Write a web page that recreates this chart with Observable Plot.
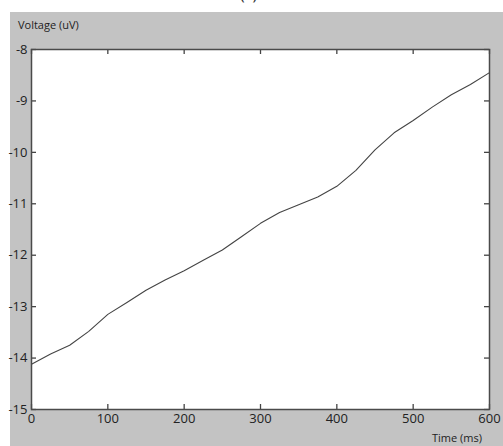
<!DOCTYPE html>
<html>
<head>
<meta charset="utf-8">
<script src="https://cdn.jsdelivr.net/npm/d3@7"></script>
<script src="https://cdn.jsdelivr.net/npm/@observablehq/plot@0.6"></script>
<style>
  html, body { margin: 0; padding: 0; background: #fff; }
  body { width: 503px; height: 446px; overflow: hidden; position: relative; font-family: "Open Sans", "DejaVu Sans", sans-serif; }
  #cap { position: absolute; left: 0; top: 0; width: 503px; height: 12px; overflow: hidden; }
  #cap span { position: absolute; left: 240px; top: -14px; font-size: 16px; line-height: 16px; color: #333; }
  #panel { position: absolute; left: 10px; top: 12px; width: 493px; height: 434px; background: #c3c3c3; }
  #chart { position: absolute; left: 0; top: 12px; }
  #ylab { position: absolute; left: 18px; top: 17px; font-size: 11px; color: #222; }
  #xlab { position: absolute; right: 21px; top: 430px; font-size: 11px; color: #222; }
</style>
</head>
<body>
<div id="cap"><span>(c)</span></div>
<div id="panel"></div>
<div id="chart"></div>
<div id="ylab">Voltage (uV)</div>
<div id="xlab">Time (ms)</div>
<script>
const timeMs = [0, 25, 50, 75, 100, 125, 150, 175, 200, 225, 250, 275, 300, 325, 350, 375, 400, 425, 450, 475, 500, 525, 550, 575, 600];
const voltage = [-14.12, -13.92, -13.75, -13.48, -13.15, -12.92, -12.68, -12.48, -12.30, -12.10, -11.90, -11.64, -11.38, -11.17, -11.02, -10.87, -10.66, -10.35, -9.95, -9.62, -9.38, -9.12, -8.88, -8.68, -8.45];
const xTicks = [0, 100, 200, 300, 400, 500, 600];
const yTicks = [-15, -14, -13, -12, -11, -10, -9, -8];

const data = timeMs.map((t, i) => ({t, v: voltage[i]}));

const W = 503, H = 434, mL = 31, mR = 14, mT = 37, mB = 37;
const innerW = W - mL - mR, innerH = H - mT - mB, tickPx = 5;
const xDom = [0, 600], yDom = [-15, -8];
const ty = tickPx / innerH * (yDom[1] - yDom[0]);
const tx = tickPx / innerW * (xDom[1] - xDom[0]);

const chart = Plot.plot({
  width: W,
  height: H,
  marginLeft: mL,
  marginTop: mT,
  marginRight: mR,
  marginBottom: mB,
  style: {background: "transparent", fontFamily: "'Open Sans', 'DejaVu Sans', sans-serif", fontSize: "13px", color: "#222", overflow: "visible"},
  x: {domain: xDom},
  y: {domain: yDom},
  marks: [
    Plot.frame({fill: "white"}),
    Plot.axisX(xTicks, {anchor: "bottom", tickSize: 0, tickPadding: 4, label: null, fontSize: 13}),
    Plot.axisY(yTicks, {anchor: "left", tickSize: 0, tickPadding: 4, label: null, fontSize: 13, tickFormat: d => String(d)}),
    Plot.ruleX(xTicks, {y1: yDom[0], y2: yDom[0] + ty, stroke: "#444", strokeWidth: 1.3}),
    Plot.ruleX(xTicks, {y1: yDom[1], y2: yDom[1] - ty, stroke: "#444", strokeWidth: 1.3}),
    Plot.ruleY(yTicks, {x1: xDom[0], x2: xDom[0] + tx, stroke: "#444", strokeWidth: 1.3}),
    Plot.ruleY(yTicks, {x1: xDom[1], x2: xDom[1] - tx, stroke: "#444", strokeWidth: 1.3}),
    Plot.line(data, {x: "t", y: "v", stroke: "#444", strokeWidth: 1.1}),
    Plot.frame({stroke: "#4a4a4a", strokeWidth: 1.5})
  ]
});
document.getElementById("chart").appendChild(chart);
</script>
</body>
</html>
